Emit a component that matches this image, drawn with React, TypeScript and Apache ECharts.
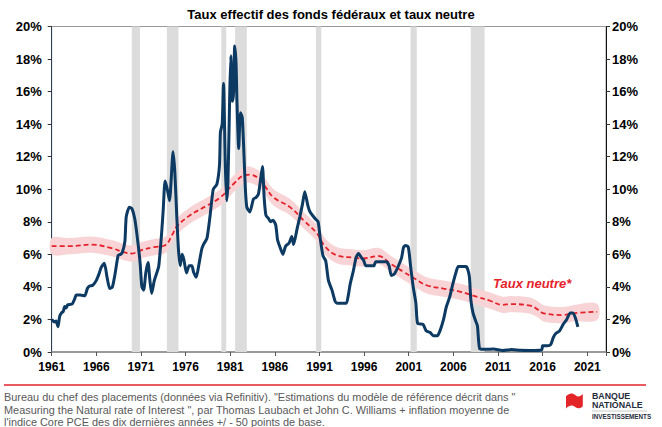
import React, { useEffect, useRef } from "react";
import * as echarts from "echarts";

const TITLE = "Taux effectif des fonds fédéraux et taux neutre";
const X_START = 1961;
const X_END = 2023.1;
const Y_TICKS_MAX = 20;

// Effective fed funds rate, [year, %]
const fedFunds: [number, number][] = [
  [1961.0, 2.0], [1961.3, 1.85], [1961.5, 1.9], [1961.7, 1.55], [1961.9, 2.2], [1962.1, 2.4],
  [1962.3, 2.5], [1962.45, 2.8], [1962.6, 2.7], [1962.8, 2.9], [1963.3, 2.95], [1963.6, 3.3],
  [1963.75, 3.5], [1964.2, 3.5], [1964.7, 3.45], [1965.0, 3.9], [1965.25, 4.05], [1965.6, 4.1],
  [1966.0, 4.4], [1966.3, 4.8], [1966.55, 5.2], [1966.9, 5.45], [1967.2, 4.6], [1967.5, 3.9],
  [1967.8, 4.0], [1968.1, 4.8], [1968.45, 5.95], [1968.7, 6.0], [1968.9, 6.1], [1969.2, 6.8],
  [1969.35, 8.3], [1969.7, 8.9], [1970.0, 8.8], [1970.3, 8.2], [1970.6, 7.0], [1970.9, 5.5],
  [1971.1, 4.0], [1971.3, 3.8], [1971.55, 4.9], [1971.8, 5.5], [1972.0, 4.4], [1972.2, 3.6],
  [1972.5, 4.4], [1972.8, 4.9], [1973.0, 5.3], [1973.3, 7.2], [1973.5, 8.8], [1973.7, 10.5],
  [1973.95, 10.0], [1974.2, 9.3], [1974.6, 12.3], [1974.8, 11.0], [1975.0, 8.5], [1975.2, 6.3],
  [1975.4, 5.3], [1975.6, 6.0], [1975.8, 5.7], [1976.1, 4.85], [1976.4, 5.3], [1976.7, 5.3],
  [1976.9, 4.9], [1977.2, 4.6], [1977.5, 5.4], [1977.8, 6.3], [1978.0, 6.6], [1978.4, 7.0],
  [1978.75, 8.4], [1979.1, 10.0], [1979.5, 10.3], [1979.8, 11.5], [1979.9, 13.5], [1980.1, 14.0],
  [1980.25, 16.5], [1980.45, 11.5], [1980.6, 9.3], [1980.75, 10.5], [1980.95, 16.0], [1981.07, 18.2],
  [1981.25, 15.4], [1981.38, 16.0], [1981.5, 18.8], [1981.65, 17.8], [1981.75, 15.5], [1981.95, 12.5],
  [1982.15, 14.7], [1982.35, 14.4], [1982.55, 12.0], [1982.7, 10.0], [1982.86, 8.9], [1983.2, 8.6],
  [1983.6, 9.4], [1983.9, 9.5], [1984.16, 9.7], [1984.5, 11.0], [1984.62, 11.4], [1984.8, 9.5],
  [1985.0, 8.4], [1985.3, 8.2], [1985.5, 8.0], [1985.8, 8.1], [1986.1, 7.8], [1986.3, 6.9],
  [1986.6, 6.4], [1986.9, 6.0], [1987.2, 6.5], [1987.6, 6.7], [1987.9, 7.1], [1988.1, 6.6],
  [1988.5, 7.6], [1988.8, 8.3], [1989.1, 9.1], [1989.35, 9.85], [1989.7, 9.0], [1989.95, 8.6],
  [1990.5, 8.2], [1990.85, 8.0], [1991.1, 6.9], [1991.4, 5.9], [1991.7, 5.6], [1992.0, 4.4],
  [1992.4, 3.8], [1992.76, 3.1], [1993.0, 3.0], [1994.0, 3.0], [1994.2, 3.4], [1994.45, 4.2],
  [1994.8, 5.0], [1995.1, 5.8], [1995.37, 6.05], [1995.7, 5.8], [1995.93, 5.65], [1996.2, 5.3],
  [1996.7, 5.3], [1997.1, 5.3], [1997.3, 5.55], [1997.8, 5.55], [1998.5, 5.55], [1998.8, 5.3],
  [1999.05, 4.7], [1999.4, 4.8], [1999.85, 5.3], [2000.2, 5.8], [2000.4, 6.4], [2000.6, 6.55],
  [2000.95, 6.45], [2001.2, 5.3], [2001.5, 4.0], [2001.8, 3.0], [2002.0, 1.75], [2002.6, 1.7],
  [2002.95, 1.3], [2003.4, 1.2], [2003.75, 1.0], [2004.2, 1.0], [2004.5, 1.3], [2004.9, 2.0],
  [2005.2, 2.75], [2005.6, 3.4], [2005.95, 4.2], [2006.3, 4.9], [2006.55, 5.25], [2007.4, 5.25],
  [2007.6, 5.1], [2007.8, 4.6], [2007.96, 3.2], [2008.2, 2.4], [2008.5, 1.9], [2008.7, 1.6],
  [2008.95, 0.2], [2009.5, 0.17], [2010.5, 0.18], [2011.5, 0.09], [2012.5, 0.15], [2013.5, 0.1],
  [2014.5, 0.09], [2015.9, 0.12], [2016.0, 0.38], [2016.5, 0.38], [2016.9, 0.45], [2017.2, 0.9],
  [2017.5, 1.15], [2017.9, 1.3], [2018.3, 1.7], [2018.7, 2.0], [2019.1, 2.4], [2019.4, 2.4],
  [2019.7, 2.05], [2019.95, 1.55],
];

// Neutral rate estimate, [year, %]
const neutralRate: [number, number][] = [
  [1961, 6.5], [1963, 6.5], [1965.5, 6.6], [1967.7, 6.38], [1969, 6.15], [1970, 6.05],
  [1971, 6.25], [1972.5, 6.45], [1973.7, 6.56], [1974.5, 7.2], [1975, 7.7], [1976.5, 8.4],
  [1978.4, 9.0], [1979.9, 9.5], [1981.5, 10.4], [1982.5, 10.85], [1983.2, 10.9], [1984.3, 10.6],
  [1985, 10.1], [1985.85, 9.5], [1987.7, 8.9], [1989.2, 8.1], [1990.7, 7.3], [1991.6, 6.5],
  [1992.9, 5.95], [1994.8, 5.8], [1995.9, 5.75], [1997.6, 5.9], [1998.9, 5.45], [2000.4, 4.93],
  [2001.7, 4.5], [2003, 4.1], [2004.9, 3.9], [2006.8, 3.7], [2008.6, 3.4], [2010.1, 3.15],
  [2011.5, 2.9], [2012.4, 2.94], [2014.6, 2.85], [2015.5, 2.6], [2016.1, 2.38], [2018.3, 2.27],
  [2019.4, 2.38], [2022.1, 2.47],
];
const BAND_HALF_WIDTH = 0.5;

// Recession periods [start, end]
const recessions: [number, number][] = [
  [1969.97, 1970.9], [1973.9, 1975.2], [1980.0, 1980.55], [1981.55, 1982.86],
  [1990.6, 1991.2], [2001.2, 2001.9], [2007.95, 2009.5],
];

const FOOTER_LINES = [
  "Bureau du chef des placements (données via Refinitiv). \"Estimations du modèle de référence décrit dans \"",
  "Measuring the Natural rate of Interest \", par Thomas Laubach et John C. Williams + inflation moyenne de",
  "l'indice Core PCE des dix dernières années +/ - 50 points de base.",
];

const FONT = "'Liberation Sans', Arial, sans-serif";
const NAVY = "#0d3a62";
const RED = "#e5232b";

const FLAG_D =
  "M0,3 C3,0 5,-0.5 8,2 C10,4 12,3 14,1 L14,12 C12,14 10,14.5 8,13 C5,10.5 3,11 0,14 Z";
echarts.graphic.registerShape("nbflag", echarts.graphic.extendPath(FLAG_D, {}) as any);

export default function App() {
  const ref = useRef<HTMLDivElement>(null);
  useEffect(() => {
    if (!ref.current) return;
    const chart = echarts.init(ref.current, undefined, { renderer: "svg" });
    const off = (y: number) => +(y - X_START).toFixed(3);
    const ffData = fedFunds.map(([y, v]) => [off(y), v]);
    const nData = neutralRate.map(([y, v]) => [off(y), v]);

    const yAxisCommon = {
      type: "value",
      min: 0,
      max: Y_TICKS_MAX,
      interval: 2,
      splitLine: { show: false },
      axisTick: { show: true, length: 4, lineStyle: { color: "#333" } },
      axisLabel: {
        formatter: "{value}%",
        color: "#000",
        fontWeight: "bold",
        fontSize: 13,
        fontFamily: FONT,
      },
    };

    chart.setOption({
      animation: false,
      title: {
        text: TITLE,
        left: "center",
        top: 3,
        textStyle: { fontSize: 13, fontWeight: "bold", color: "#000", fontFamily: FONT },
      },
      grid: {
        left: 51.7,
        right: 56,
        top: 26.5,
        bottom: 75,
        show: true,
        borderColor: "#999",
        borderWidth: 1,
      },
      xAxis: {
        type: "value",
        min: 0,
        max: +(X_END - X_START).toFixed(2),
        interval: 5,
        splitLine: { show: false },
        axisLine: { lineStyle: { color: "#888", width: 1.5 } },
        axisTick: { show: true, length: 4, lineStyle: { color: "#555" } },
        axisLabel: {
          margin: 9,
          color: "#000",
          fontWeight: "bold",
          fontSize: 12,
          fontFamily: FONT,
          formatter: (v: number) =>
            Math.abs(v % 5) < 1e-6 && X_START + v <= 2021 ? String(X_START + v) : "",
        },
      },
      yAxis: [
        {
          ...yAxisCommon,
          position: "left",
          axisLine: { show: true, lineStyle: { color: "#2a3f55", width: 1 } },
          axisLabel: { ...yAxisCommon.axisLabel, margin: 10 },
        },
        {
          ...yAxisCommon,
          position: "right",
          axisLine: { show: true, lineStyle: { color: "#111", width: 1 } },
          axisLabel: { ...yAxisCommon.axisLabel, margin: 6 },
        },
      ],
      series: [
        {
          type: "custom",
          name: "bande",
          silent: true,
          z: 2,
          data: [[0, 0]],
          encode: { x: 0, y: 1 },
          renderItem: (_params: any, api: any) => {
            const upper = neutralRate.map(([y, v]) => api.coord([off(y), v + BAND_HALF_WIDTH]));
            const lower = neutralRate
              .map(([y, v]) => api.coord([off(y), v - BAND_HALF_WIDTH]))
              .reverse();
            return {
              type: "polygon",
              shape: { points: [...upper, ...lower], smooth: 0.35 },
              style: { fill: "#f8d4d6", stroke: "none" },
            };
          },
        },
        {
          type: "line",
          name: "Taux neutre",
          data: nData,
          smooth: 0.4,
          symbol: "none",
          lineStyle: { color: RED, width: 1.8, type: [5, 3] },
          z: 3,
        },
        {
          type: "line",
          name: "Taux effectif des fonds fédéraux",
          data: ffData,
          smooth: 0.2,
          symbol: "none",
          lineStyle: { color: NAVY, width: 3 },
          z: 4,
          markArea: {
            silent: true,
            z: 1,
            itemStyle: { color: "#dcdcdc" },
            data: recessions.map(([a, b]) => [{ xAxis: off(a) }, { xAxis: off(b) }]),
          },
        },
      ],
      graphic: [
        {
          type: "text",
          x: 493,
          y: 277,
          style: {
            text: "Taux neutre*",
            fill: RED,
            font: `italic bold 13px ${FONT}`,
          },
        },
        {
          type: "line",
          shape: { x1: 4, y1: 385, x2: 646, y2: 385 },
          style: { stroke: RED, lineWidth: 1.6 },
        },
        ...FOOTER_LINES.map((t, i) => ({
          type: "text",
          x: 4,
          y: 391.5 + i * 12.5,
          style: { text: t, fill: "#595959", font: `10.9px ${FONT}` },
        })),
        {
          type: "nbflag",
          x: 566,
          y: 393,
          scaleX: 1.2,
          scaleY: 1.1,
          style: { fill: "#e42528" },
        },
        {
          type: "text",
          x: 592,
          y: 391,
          style: { text: "BANQUE", fill: "#1f2d3d", font: `bold 8.8px ${FONT}` },
        },
        {
          type: "text",
          x: 592,
          y: 400,
          style: { text: "NATIONALE", fill: "#1f2d3d", font: `bold 8.8px ${FONT}` },
        },
        {
          type: "line",
          shape: { x1: 592, y1: 411, x2: 647, y2: 411 },
          style: { stroke: "#bbb", lineWidth: 0.8 },
        },
        {
          type: "text",
          x: 592,
          y: 413,
          style: { text: "INVESTISSEMENTS", fill: "#1f2d3d", font: `bold 6.3px ${FONT}` },
        },
      ],
    });
    return () => chart.dispose();
  }, []);
  return (
    <div
      ref={ref}
      style={{ position: "fixed", left: 0, top: 0, width: 662, height: 427, background: "#fff" }}
    />
  );
}
